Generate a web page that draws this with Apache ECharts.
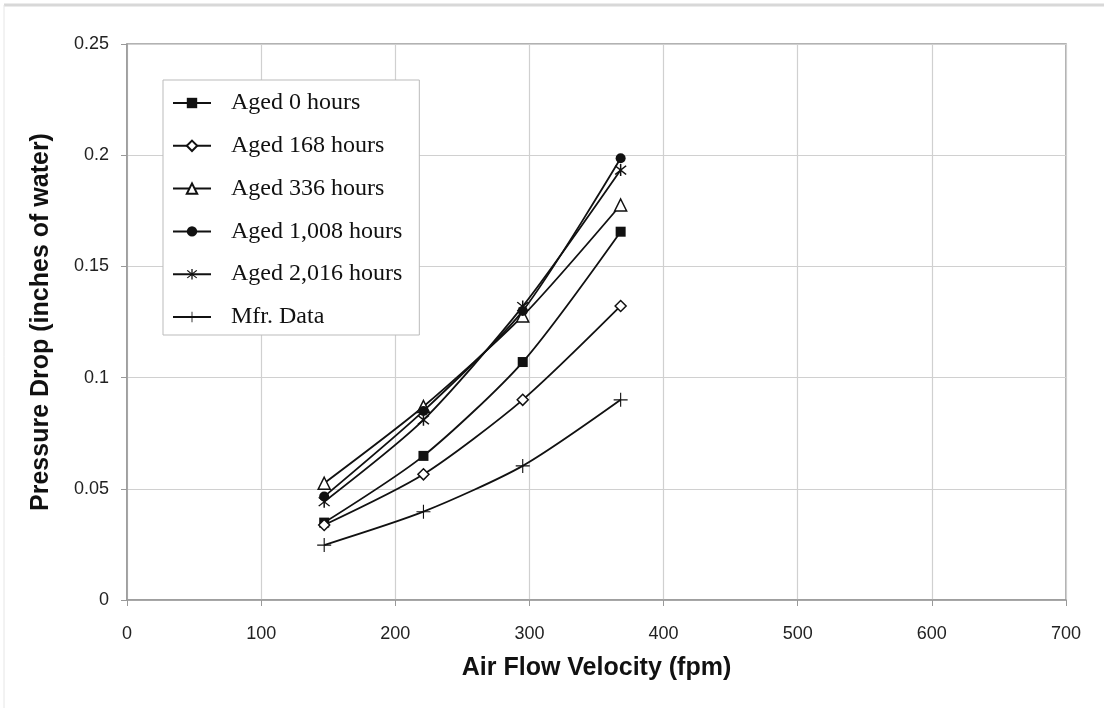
<!DOCTYPE html>
<html><head><meta charset="utf-8">
<script src="https://cdn.jsdelivr.net/npm/echarts@6/dist/echarts.min.js"></script>
<style>html,body{margin:0;padding:0;background:#fff}#c{width:1104px;height:708px}</style>
</head><body><div id="c"></div>
<script>
var velocity = [147, 221, 295, 368];
var aged0 = [0.0348, 0.0648, 0.107, 0.1656];
var aged168 = [0.0337, 0.0565, 0.090, 0.1322];
var aged336 = [0.0525, 0.0870, 0.1277, 0.1776];
var aged1008 = [0.0465, 0.0850, 0.1300, 0.1986];
var aged2016 = [0.0442, 0.0810, 0.1320, 0.1933];
var mfrData = [0.0247, 0.0397, 0.0603, 0.0900];
var seriesNames = ['Aged 0 hours','Aged 168 hours','Aged 336 hours','Aged 1,008 hours','Aged 2,016 hours','Mfr. Data'];

var STAR = 'path://M9,0L11,0L11,20L9,20Z M2,3.4L3.4,2L18,16.6L16.6,18Z M16.6,2L18,3.4L3.4,18L2,16.6Z';
var PLUS = 'path://M9.2,0h1.6v9.2h9.2v1.6h-9.2v9.2h-1.6v-9.2h-9.2v-1.6h9.2z';

function pts(ys){ return velocity.map(function(x,i){return [x, ys[i]];}); }
function mk(name, ys, symbol, size, filled){
  return {
    name: name, type: 'line', data: pts(ys), smooth: 0.25,
    symbol: symbol, symbolSize: size, showSymbol: true,
    lineStyle: {color: '#111', width: 1.8},
    itemStyle: filled ? {color: '#111', borderColor: '#111', borderWidth: 0}
                      : {color: '#fff', borderColor: '#111', borderWidth: 1.5},
    emphasis: {disabled: true}, animation: false, z: 3
  };
}

var chart = echarts.init(document.getElementById('c'), null, {renderer: 'canvas'});
chart.setOption({
  backgroundColor: '#fff',
  animation: false,
  graphic: [
    {type: 'line', shape: {x1: 4, y1: 5, x2: 1104, y2: 5}, style: {stroke: '#d8d8d8', lineWidth: 3}},
    {type: 'line', shape: {x1: 4, y1: 5, x2: 4, y2: 708}, style: {stroke: '#e6e6e6', lineWidth: 1}}
  ],
  grid: {left: 127, top: 44, right: 38, bottom: 108, show: true, borderColor: '#999', borderWidth: 1.5, containLabel: false},
  legend: {
    orient: 'vertical', left: 163, top: 80,
    data: seriesNames,
    backgroundColor: '#fff', borderColor: '#bbb', borderWidth: 1,
    padding: [11, 17, 6, 9],
    itemWidth: 38, itemHeight: 13, itemGap: 18.8,
    textStyle: {fontFamily: 'Liberation Serif', fontSize: 24, color: '#111', padding: [0,0,0,15]},
    selectedMode: false
  },
  xAxis: {
    type: 'value', min: 0, max: 700, interval: 100,
    name: 'Air Flow Velocity (fpm)', nameLocation: 'middle', nameGap: 56,
    nameTextStyle: {fontFamily: 'Liberation Sans', fontWeight: 'bold', fontSize: 25, color: '#111'},
    axisLine: {show: true, lineStyle: {color: '#999', width: 1.5}},
    axisTick: {show: true, length: 6, lineStyle: {color: '#999'}},
    axisLabel: {fontFamily: 'Liberation Sans', fontSize: 18, color: '#222', margin: 25},
    splitLine: {show: true, lineStyle: {color: '#d0d0d0', width: 1.2}}
  },
  yAxis: {
    type: 'value', min: 0, max: 0.25, interval: 0.05,
    name: 'Pressure Drop (inches of water)', nameLocation: 'middle', nameGap: 73,
    nameTextStyle: {fontFamily: 'Liberation Sans', fontWeight: 'bold', fontSize: 25, color: '#111'},
    axisLine: {show: true, lineStyle: {color: '#999', width: 1.5}},
    axisTick: {show: true, length: 6, lineStyle: {color: '#999'}},
    axisLabel: {fontFamily: 'Liberation Sans', fontSize: 18, color: '#222', margin: 18},
    splitLine: {show: true, lineStyle: {color: '#d0d0d0', width: 1.2}}
  },
  series: [
    mk(seriesNames[0], aged0, 'rect', 10, true),
    mk(seriesNames[1], aged168, 'diamond', 11, false),
    mk(seriesNames[2], aged336, 'triangle', 12, false),
    mk(seriesNames[3], aged1008, 'circle', 10, true),
    mk(seriesNames[4], aged2016, STAR, 12, true),
    mk(seriesNames[5], mfrData, PLUS, 14, true)
  ]
});
</script></body></html>
